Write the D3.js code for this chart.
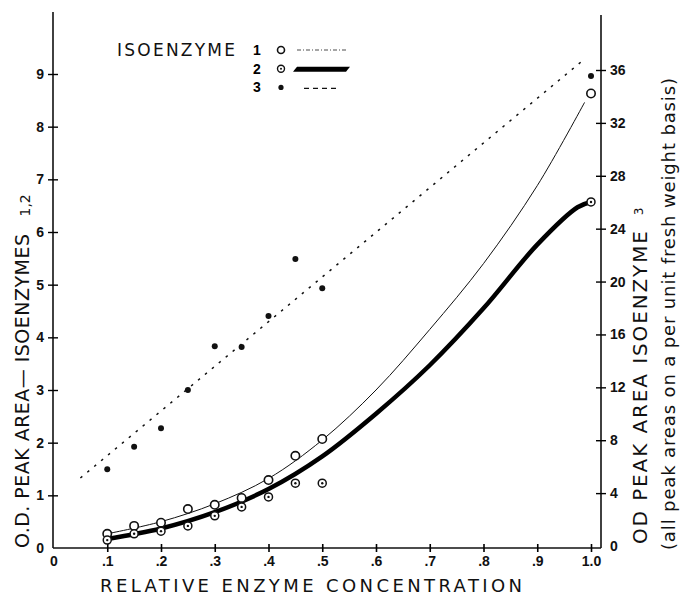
<!DOCTYPE html>
<html>
<head>
<meta charset="utf-8">
<script src="https://cdn.jsdelivr.net/npm/d3@7"></script>
<style>
  body { margin: 0; background: #fff; }
  svg { display: block; }
  .tick text { font-family: "Liberation Sans", Arial, sans-serif; font-weight: bold; font-size: 14px; fill: #111; }
  .title { font-family: "DejaVu Sans", sans-serif; fill: #111; }
</style>
</head>
<body>
<svg id="chart" width="682" height="597"></svg>
<script>
// relativni koncentrace enzymu (body mereni)
const conc = [0.1, 0.15, 0.2, 0.25, 0.3, 0.35, 0.4, 0.45, 0.5, 1.0];
// izoenzym 1 a 2 - leva osa, izoenzym 3 - prava osa
const iso1 = [0.27, 0.42, 0.48, 0.74, 0.82, 0.95, 1.29, 1.75, 2.07, 8.63];
const iso2 = [0.15, 0.27, 0.32, 0.42, 0.61, 0.78, 0.97, 1.23, 1.23, 6.57];
const iso3 = [5.8, 7.5, 8.9, 11.8, 15.1, 15.05, 17.4, 21.7, 19.5, 35.55];

// prolozene krivky
const fit1X = [0.1, 0.2, 0.3, 0.4, 0.5, 0.6, 0.7, 0.8, 0.9, 0.988];
const fit1 = [0.27, 0.5, 0.84, 1.32, 2.05, 3.0, 4.15, 5.4, 6.88, 8.46];
const fit2X = [0.1, 0.2, 0.3, 0.4, 0.5, 0.6, 0.7, 0.8, 0.9, 0.975, 1.0];
const fit2 = [0.17, 0.37, 0.68, 1.12, 1.74, 2.55, 3.47, 4.55, 5.76, 6.47, 6.57];
const fit3X = [0.05, 0.99];
const fit3 = [5.14, 36.9];

// popisky os
const xTicks = [0, 0.1, 0.2, 0.3, 0.4, 0.5, 0.6, 0.7, 0.8, 0.9, 1.0];
const xTickLabels = ["0", ".1", ".2", ".3", ".4", ".5", ".6", ".7", ".8", ".9", "1.0"];
const leftTicks = [0, 1, 2, 3, 4, 5, 6, 7, 8, 9];
const rightTicks = [0, 4, 8, 12, 16, 20, 24, 28, 32, 36];
const legendLabels = ["1", "2", "3"];

const svg = d3.select("#chart");

const x = d3.scaleLinear().domain([0, 1]).range([53.5, 591]);
const yL = d3.scaleLinear().domain([0, 9]).range([548, 74]);
const yR = d3.scaleLinear().domain([0, 36]).range([546, 70]);

// osy
const gx = svg.append("g").attr("transform", "translate(0,548)")
  .call(d3.axisBottom(x).tickValues(xTicks).tickSize(4).tickPadding(4)
    .tickFormat((d, i) => xTickLabels[i]));
gx.select(".domain").attr("d", "M53,0H601");
gx.selectAll(".tick line").attr("y1", -4).attr("y2", 4).attr("stroke-width", 1.6);
gx.selectAll(".tick").filter(d => d === 0).select("line").remove();

const gl = svg.append("g").attr("transform", "translate(53,0)")
  .call(d3.axisLeft(yL).tickValues(leftTicks).tickSize(5).tickPadding(4));
gl.select(".domain").attr("d", "M0,12V548");
gl.selectAll(".tick line").attr("x1", -5).attr("x2", 5).attr("stroke-width", 1.4);
gl.selectAll(".tick").filter(d => d === 0).select("line").remove();

const gr = svg.append("g").attr("transform", "translate(601,0)")
  .call(d3.axisRight(yR).tickValues(rightTicks).tickSize(5).tickPadding(4));
gr.select(".domain").attr("d", "M0,15V548");
gr.selectAll(".tick line").attr("x1", -5).attr("x2", 5).attr("stroke-width", 1.4);
gr.selectAll(".tick").filter(d => d === 0).select("line").remove();
svg.selectAll(".domain").attr("stroke", "#111").attr("stroke-width", 1.6);

// popisy os
svg.append("text").attr("class", "title")
  .attr("x", 100).attr("y", 592)
  .attr("font-size", 18).attr("textLength", 422).attr("lengthAdjust", "spacing")
  .text("RELATIVE ENZYME CONCENTRATION");

const lt = svg.append("text").attr("class", "title")
  .attr("transform", "translate(29,548) rotate(-90)").attr("font-size", 19);
lt.append("tspan").attr("textLength", 314).attr("lengthAdjust", "spacing")
  .text("O.D. PEAK AREA\u2014 ISOENZYMES");
lt.append("tspan").attr("dx", 17).attr("dy", 1).attr("font-size", 14).text("1,2");

const rt = svg.append("text").attr("class", "title")
  .attr("transform", "translate(647,544) rotate(-90)").attr("font-size", 20);
rt.append("tspan").attr("textLength", 313).attr("lengthAdjust", "spacing")
  .text("OD PEAK AREA ISOENZYME");
rt.append("tspan").attr("dx", 14).attr("dy", -4).attr("font-size", 12).text("3");

svg.append("text").attr("class", "title")
  .attr("transform", "translate(675,550) rotate(-90)").attr("font-size", 18)
  .attr("textLength", 472).attr("lengthAdjust", "spacing")
  .text("(all peak areas on a per unit fresh weight basis)");

// krivky
const line = d3.line().curve(d3.curveCatmullRom.alpha(0.5));

svg.append("path")
  .attr("d", line(fit3X.map((d, i) => [x(d), yR(fit3[i])])))
  .attr("fill", "none").attr("stroke", "#111").attr("stroke-width", 1.5)
  .attr("stroke-dasharray", "2.5,6.5");

svg.append("path")
  .attr("d", line(fit1X.map((d, i) => [x(d), yL(fit1[i])])))
  .attr("fill", "none").attr("stroke", "#111").attr("stroke-width", 1);

svg.append("path")
  .attr("d", line(fit2X.map((d, i) => [x(d), yL(fit2[i])])))
  .attr("fill", "none").attr("stroke", "#000").attr("stroke-width", 4.5);

// body
svg.selectAll(".p1").data(conc).join("circle").attr("class", "p1")
  .attr("cx", d => x(d)).attr("cy", (d, i) => yL(iso1[i])).attr("r", 4.2)
  .attr("fill", "#fff").attr("stroke", "#111").attr("stroke-width", 1.6);

const p2 = svg.selectAll(".p2").data(conc).join("g").attr("class", "p2")
  .attr("transform", (d, i) => `translate(${x(d)},${yL(iso2[i])})`);
p2.append("circle").attr("r", 4).attr("fill", "#fff").attr("stroke", "#111").attr("stroke-width", 1.5);
p2.append("circle").attr("r", 1.2).attr("fill", "#111");

svg.selectAll(".p3").data(conc).join("circle").attr("class", "p3")
  .attr("cx", d => x(d)).attr("cy", (d, i) => yR(iso3[i])).attr("r", 3)
  .attr("fill", "#111");

// legenda
svg.append("text").attr("class", "title")
  .attr("x", 117).attr("y", 56).attr("font-size", 17)
  .attr("textLength", 118).attr("lengthAdjust", "spacing")
  .text("ISOENZYME");

const leg = svg.selectAll(".leg").data(legendLabels).join("g").attr("class", "leg")
  .attr("transform", (d, i) => `translate(0,${50 + i * 18.7})`);
leg.append("text").attr("x", 257).attr("y", 5)
  .attr("font-family", "Liberation Sans, Arial, sans-serif").attr("font-weight", "bold")
  .attr("font-size", 14).attr("text-anchor", "middle").text(d => d);

leg.filter((d, i) => i === 0).append("circle").attr("cx", 281).attr("r", 3.5)
  .attr("fill", "#fff").attr("stroke", "#111").attr("stroke-width", 1.6);
leg.filter((d, i) => i === 0).append("line").attr("x1", 297).attr("x2", 347)
  .attr("stroke", "#888").attr("stroke-width", 1.3).attr("stroke-dasharray", "4,2,1,2");

const l2 = leg.filter((d, i) => i === 1);
l2.append("circle").attr("cx", 281).attr("r", 3.5)
  .attr("fill", "#fff").attr("stroke", "#111").attr("stroke-width", 1.4);
l2.append("circle").attr("cx", 281).attr("r", 1).attr("fill", "#111");
l2.append("path").attr("d", "M293,3L297,-2H350L346,3Z").attr("fill", "#000");

const l3 = leg.filter((d, i) => i === 2);
l3.append("circle").attr("cx", 281).attr("r", 2.6).attr("fill", "#111");
l3.append("line").attr("x1", 304).attr("x2", 337).attr("y1", 1).attr("y2", 1)
  .attr("stroke", "#111").attr("stroke-width", 1.3).attr("stroke-dasharray", "5,4");
</script>
</body>
</html>
